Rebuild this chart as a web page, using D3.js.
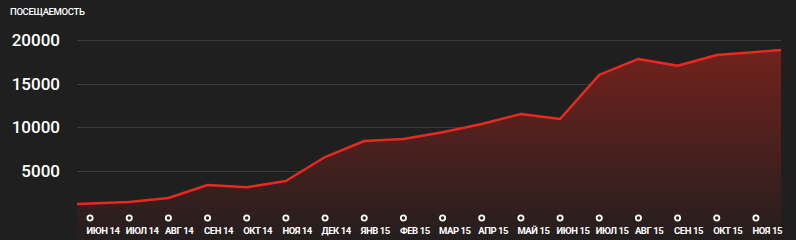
<!DOCTYPE html>
<html>
<head>
<meta charset="utf-8">
<script src="https://cdn.jsdelivr.net/npm/d3@7"></script>
<style>
    html, body { margin: 0; padding: 0; background: #1f1f1f; }
    svg { display: block; }
</style>
</head>
<body>
<div id="chart"></div>
<script>
const title = 'ПОСЕЩАЕМОСТЬ';
const months = ['ИЮН 14', 'ИЮЛ 14', 'АВГ 14', 'СЕН 14', 'ОКТ 14', 'НОЯ 14', 'ДЕК 14',
    'ЯНВ 15', 'ФЕВ 15', 'МАР 15', 'АПР 15', 'МАЙ 15', 'ИЮН 15', 'ИЮЛ 15',
    'АВГ 15', 'СЕН 15', 'ОКТ 15', 'НОЯ 15'];
const visits = [1280, 1450, 1910, 3400, 3140, 3860, 6600, 8440, 8670, 9430,
    10390, 11530, 10960, 16000, 17830, 17060, 18290, 18630];
// the months just outside the visible range (line runs off both edges)
const visitsBefore = 1150;
const visitsAfter = 18980;
const yTicks = [5000, 10000, 15000, 20000];

const width = 796, height = 240;
const plotLeft = 77, plotRight = 781;

const svg = d3.select('#chart')
    .append('svg')
    .attr('width', width)
    .attr('height', height);

// index -1 .. 18, visible window from -1/3 to ~17.64
const x = d3.scaleLinear()
    .domain([-0.333, 17.64])
    .range([plotLeft, plotRight]);

const y = d3.scaleLinear()
    .domain([0, 20000])
    .range([214.7, 40]);

const points = [[-1, visitsBefore]]
    .concat(visits.map((v, i) => [i, v]))
    .concat([[visits.length, visitsAfter]]);

const defs = svg.append('defs');
defs.append('clipPath')
    .attr('id', 'plotClip')
    .append('rect')
    .attr('x', plotLeft)
    .attr('y', 0)
    .attr('width', plotRight - plotLeft)
    .attr('height', height);

const grad = defs.append('linearGradient')
    .attr('id', 'areaGrad')
    .attr('gradientUnits', 'userSpaceOnUse')
    .attr('x1', 0).attr('x2', 0)
    .attr('y1', y(d3.max(points, d => d[1])))
    .attr('y2', height);
grad.append('stop').attr('offset', 0).attr('stop-color', '#72221d');
grad.append('stop').attr('offset', 1).attr('stop-color', '#241e1e');

svg.append('text')
    .attr('x', 10)
    .attr('y', 15)
    .attr('fill', '#fff')
    .style('font-family', 'Roboto, sans-serif')
    .style('font-size', '9.5px')
    .style('font-weight', 500)
    .style('letter-spacing', '-0.35px')
    .text(title);

// grid + y labels
svg.append('g')
    .selectAll('line')
    .data(yTicks)
    .enter()
    .append('line')
    .attr('x1', plotLeft)
    .attr('x2', plotRight)
    .attr('y1', d => Math.round(y(d)) + 0.5)
    .attr('y2', d => Math.round(y(d)) + 0.5)
    .attr('stroke', '#3b3b3b')
    .attr('stroke-width', 1);

svg.append('g')
    .selectAll('text')
    .data(yTicks)
    .enter()
    .append('text')
    .attr('x', 60)
    .attr('y', d => y(d) + 6)
    .attr('text-anchor', 'end')
    .attr('fill', '#fff')
    .style('font-family', 'Roboto, sans-serif')
    .style('font-size', '17px')
    .style('font-weight', 500)
    .text(d => d);

const plot = svg.append('g').attr('clip-path', 'url(#plotClip)');

plot.append('path')
    .datum(points)
    .attr('fill', 'url(#areaGrad)')
    .attr('d', d3.area()
        .x(d => x(d[0]))
        .y0(height)
        .y1(d => y(d[1])));

plot.append('path')
    .datum(points)
    .attr('fill', 'none')
    .attr('stroke', '#e8291e')
    .attr('stroke-width', 2.5)
    .attr('stroke-linejoin', 'round')
    .attr('d', d3.line()
        .x(d => x(d[0]))
        .y(d => y(d[1])));

// month markers + labels
const ticks = svg.append('g')
    .selectAll('g.month')
    .data(months)
    .enter()
    .append('g')
    .attr('class', 'month')
    .attr('transform', (d, i) => 'translate(' + x(i) + ',0)');

ticks.append('circle')
    .attr('cx', 0)
    .attr('cy', 218)
    .attr('r', 2.6)
    .attr('fill', '#1f1f1f')
    .attr('stroke', '#fff')
    .attr('stroke-width', 1.8);

ticks.append('text')
    .attr('x', -3.5)
    .attr('y', 234)
    .attr('fill', '#fff')
    .style('font-family', 'Roboto, sans-serif')
    .style('font-size', '9.5px')
    .style('font-weight', 700)
    .style('letter-spacing', '-0.45px')
    .text(d => d);
</script>
</body>
</html>
